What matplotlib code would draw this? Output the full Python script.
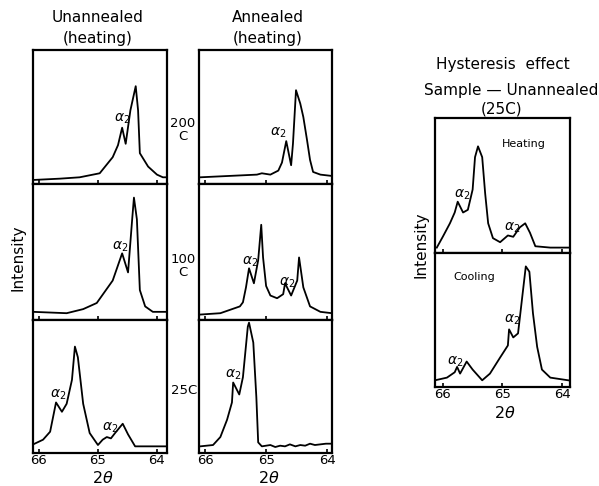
import matplotlib
matplotlib.use("Agg")
import matplotlib.pyplot as plt

W, H = 599, 486

# 2-theta (deg) and relative intensity
ua200_t = [66.10, 65.64, 65.31, 64.97, 64.75, 64.66, 64.59, 64.53, 64.45, 64.36, 64.32, 64.29, 64.15, 64.00, 63.90, 63.83]
ua200_i = [0.03, 0.04, 0.05, 0.08, 0.20, 0.29, 0.42, 0.30, 0.55, 0.73, 0.55, 0.23, 0.13, 0.07, 0.05, 0.05]

ua100_t = [66.10, 65.53, 65.25, 65.02, 64.75, 64.59, 64.49, 64.42, 64.39, 64.34, 64.29, 64.20, 64.07, 63.83]
ua100_i = [0.06, 0.05, 0.08, 0.125, 0.29, 0.49, 0.35, 0.74, 0.90, 0.74, 0.22, 0.10, 0.06, 0.06]

ua25_t = [66.12, 65.93, 65.81, 65.71, 65.61, 65.53, 65.44, 65.39, 65.34, 65.25, 65.14, 65.00, 64.92,
          64.85, 64.78, 64.71, 64.58, 64.49, 64.37, 64.17, 63.83]
ua25_i = [0.06, 0.10, 0.16, 0.38, 0.31, 0.37, 0.55, 0.80, 0.72, 0.37, 0.15, 0.06, 0.10,
          0.12, 0.11, 0.15, 0.22, 0.14, 0.05, 0.05, 0.05]

an200_t = [66.08, 65.15, 65.07, 64.93, 64.80, 64.74, 64.67, 64.59, 64.56, 64.51, 64.44, 64.39, 64.33, 64.28, 64.23, 64.11, 63.92]
an200_i = [0.05, 0.07, 0.08, 0.07, 0.10, 0.16, 0.32, 0.14, 0.30, 0.70, 0.60, 0.50, 0.33, 0.18, 0.09, 0.07, 0.06]

an100_t = [66.08, 65.75, 65.43, 65.38, 65.33, 65.28, 65.20, 65.13, 65.08, 65.05, 65.00, 64.93, 64.82,
           64.72, 64.69, 64.59, 64.49, 64.46, 64.39, 64.28, 64.11, 63.92]
an100_i = [0.04, 0.05, 0.10, 0.13, 0.24, 0.38, 0.27, 0.44, 0.70, 0.46, 0.25, 0.18, 0.16,
           0.19, 0.27, 0.18, 0.29, 0.46, 0.24, 0.10, 0.06, 0.05]

an25_t = [66.08, 65.87, 65.75, 65.64, 65.56, 65.54, 65.44, 65.38, 65.30, 65.28, 65.21, 65.16, 65.13,
          65.07, 64.93, 64.85, 64.77, 64.69, 64.61, 64.52, 64.44, 64.36, 64.28, 64.20, 64.11, 64.02, 63.92]
an25_i = [0.05, 0.06, 0.12, 0.25, 0.38, 0.53, 0.44, 0.57, 0.95, 0.98, 0.83, 0.42, 0.08,
          0.05, 0.06, 0.045, 0.055, 0.05, 0.065, 0.05, 0.06, 0.055, 0.07, 0.06, 0.065, 0.07, 0.07]

heat_t = [66.10, 66.00, 65.88, 65.80, 65.75, 65.66, 65.58, 65.50, 65.46, 65.41, 65.34, 65.29, 65.24,
          65.16, 65.04, 64.91, 64.82, 64.71, 64.62, 64.54, 64.45, 64.20, 63.90]
heat_i = [0.04, 0.12, 0.22, 0.30, 0.38, 0.30, 0.32, 0.47, 0.71, 0.79, 0.71, 0.44, 0.22,
          0.11, 0.08, 0.13, 0.12, 0.19, 0.22, 0.15, 0.05, 0.04, 0.04]

cool_t = [66.13, 65.93, 65.80, 65.76, 65.71, 65.60, 65.50, 65.34, 65.21, 65.04, 64.91, 64.89, 64.82,
          64.74, 64.67, 64.61, 64.55, 64.49, 64.42, 64.34, 64.20, 63.90]
cool_i = [0.05, 0.07, 0.11, 0.15, 0.10, 0.19, 0.13, 0.05, 0.10, 0.22, 0.31, 0.43, 0.37,
          0.40, 0.67, 0.90, 0.86, 0.55, 0.30, 0.13, 0.07, 0.05]

xticks = [66, 65, 64]
temps = ["200\nC", "100\nC", "25C"]

# alpha-2 label spots (2theta, intensity) per panel
a2_ua = [[(64.59, 0.49)], [(64.63, 0.54)], [(65.68, 0.44), (64.80, 0.19)]]
a2_an = [[(64.80, 0.38)], [(65.26, 0.43), (64.66, 0.27)], [(65.54, 0.59)]]
a2_heat = [(65.68, 0.43), (64.84, 0.19)]
a2_cool = [(64.84, 0.50), (65.80, 0.19)]


def px(x, y):
    return x / W, 1 - y / H


def make_ax(fig, x0, y0, x1, y1, xlim, labels):
    ax = fig.add_axes([x0 / W, 1 - y1 / H, (x1 - x0) / W, (y1 - y0) / H])
    ax.set_xlim(*xlim)
    ax.set_ylim(0, 1)
    ax.set_yticks([])
    ax.set_xticks(xticks)
    ax.tick_params(axis="x", direction="in", length=3, width=1.2, pad=1, labelsize=9.5,
                   labelbottom=labels)
    for s in ax.spines.values():
        s.set_linewidth(1.6)
    return ax


def put_a2(ax, spots):
    for t, i in spots:
        ax.text(t, i, r"$\alpha_2$", fontsize=10, ha="center", va="center")


fig = plt.figure(figsize=(W / 100, H / 100), dpi=100)

rows = [(50, 184), (184, 320), (320, 453)]
ua = [(ua200_t, ua200_i), (ua100_t, ua100_i), (ua25_t, ua25_i)]
an = [(an200_t, an200_i), (an100_t, an100_i), (an25_t, an25_i)]

for r, (y0, y1) in enumerate(rows):
    last = r == 2
    ax = make_ax(fig, 33, y0, 167, y1, (66.10, 63.83), last)
    ax.plot(ua[r][0], ua[r][1], color="black", lw=1.3)
    put_a2(ax, a2_ua[r])

    ax = make_ax(fig, 199, y0, 332, y1, (66.10, 63.92), last)
    ax.plot(an[r][0], an[r][1], color="black", lw=1.3)
    put_a2(ax, a2_an[r])

# temperature labels between the columns
fig.text(*px(183, 130), temps[0], fontsize=9.5, ha="center", va="center", linespacing=1.0)
fig.text(*px(183, 266), temps[1], fontsize=9.5, ha="center", va="center", linespacing=1.0)
fig.text(*px(184, 391), temps[2], fontsize=9.5, ha="center", va="center")

fig.text(*px(98, 18), "Unannealed", fontsize=11, ha="center", va="center")
fig.text(*px(98, 38), "(heating)", fontsize=11, ha="center", va="center")
fig.text(*px(268, 18), "Annealed", fontsize=11, ha="center", va="center")
fig.text(*px(268, 38), "(heating)", fontsize=11, ha="center", va="center")
fig.text(*px(18, 258), "Intensity", fontsize=11, ha="center", va="center", rotation=90)
fig.text(*px(103, 486), r"$2\theta$", fontsize=11.5, ha="center", va="bottom")
fig.text(*px(269, 486), r"$2\theta$", fontsize=11.5, ha="center", va="bottom")

# hysteresis panels
ax = make_ax(fig, 435, 118, 570, 253, (66.13, 63.87), False)
ax.plot(heat_t, heat_i, color="black", lw=1.3)
put_a2(ax, a2_heat)
ax.text(64.65, 0.81, "Heating", fontsize=8, ha="center", va="center")

ax = make_ax(fig, 435, 253, 570, 387, (66.13, 63.87), True)
ax.plot(cool_t, cool_i, color="black", lw=1.3)
put_a2(ax, a2_cool)
ax.text(65.48, 0.82, "Cooling", fontsize=8, ha="center", va="center")

fig.text(*px(503, 64), "Hysteresis  effect", fontsize=11, ha="center", va="center")
fig.text(*px(511, 91), "Sample \u2014 Unannealed", fontsize=11, ha="center", va="center")
fig.text(*px(502, 109), "(25C)", fontsize=11, ha="center", va="center")
fig.text(*px(421, 245), "Intensity", fontsize=11, ha="center", va="center", rotation=90)
fig.text(*px(505, 413), r"$2\theta$", fontsize=11.5, ha="center", va="center")

fig.savefig("out.png", dpi=100)
